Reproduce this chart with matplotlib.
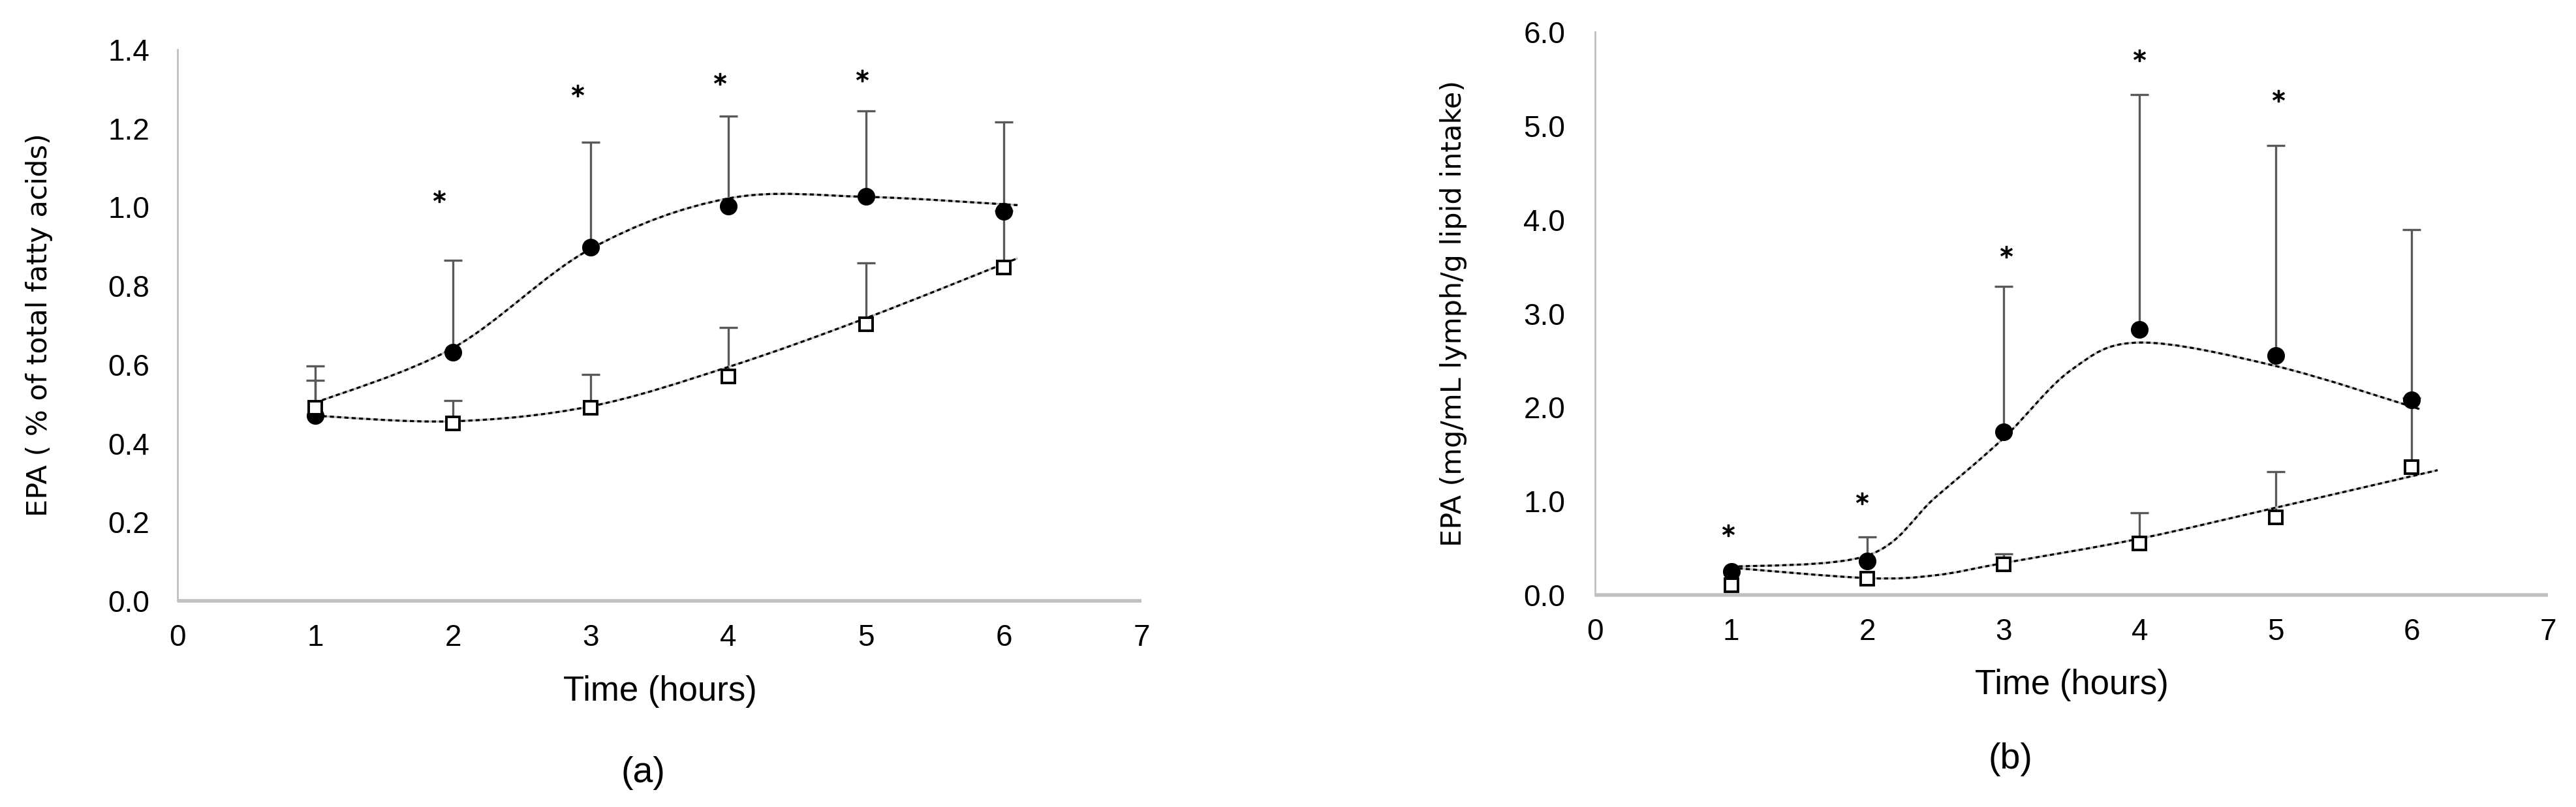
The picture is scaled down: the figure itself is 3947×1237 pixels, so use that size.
import numpy as np
import matplotlib
matplotlib.use("Agg")
import matplotlib.pyplot as plt
from matplotlib.path import Path
from matplotlib.patches import PathPatch

# ---- data ----
hours = [1, 2, 3, 4, 5, 6]

# panel (a): EPA as % of total fatty acids
a_fish = [0.47, 0.632, 0.898, 1.003, 1.027, 0.989]
a_fish_upper = [0.596, 0.865, 1.165, 1.231, 1.245, 1.216]
a_ctrl = [0.49, 0.451, 0.49, 0.570, 0.703, 0.846]
a_ctrl_upper = [0.560, 0.508, 0.575, 0.694, 0.858, 0.99]
a_fish_fit_x = [1, 2, 3, 4, 5, 6.1]
a_fish_fit_y = [0.503, 0.642, 0.894, 1.022, 1.026, 1.005]
a_ctrl_fit_x = [1, 2, 3, 4, 5, 6.1]
a_ctrl_fit_y = [0.47, 0.456, 0.494, 0.594, 0.718, 0.87]
a_star_x = [1.90, 2.905, 3.94, 4.97]
a_star_y = [1.027, 1.296, 1.326, 1.333]

# panel (b): EPA mg/mL lymph/g lipid intake
b_fish = [0.25, 0.36, 1.74, 2.83, 2.55, 2.08]
b_fish_upper = [np.nan, 0.62, 3.29, 5.33, 4.79, 3.89]
b_ctrl = [0.106, 0.176, 0.326, 0.546, 0.83, 1.36]
b_ctrl_upper = [np.nan, np.nan, 0.44, 0.875, 1.315, 2.10]
b_fish_fit_x = [1, 2, 2.5, 3, 3.5, 4, 5, 6.06]
b_fish_fit_y = [0.30, 0.42, 1.04, 1.67, 2.40, 2.69, 2.44, 1.98]
b_ctrl_fit_x = [1, 2, 2.5, 3, 4, 5, 6.19]
b_ctrl_fit_y = [0.29, 0.18, 0.21, 0.34, 0.60, 0.93, 1.33]
b_star_x = [0.98, 1.96, 3.02, 4.0, 5.02]
b_star_y = [0.685, 1.03, 3.66, 5.75, 5.32]

NARROW = ["Liberation Sans Narrow", "Liberation Sans", "DejaVu Sans"]
W, H = 3948, 1237
ERR_COLOR = "#595959"


def smooth_path(xs, ys):
    # excel-like smoothed line: catmull-rom knots turned into bezier segments
    pts = np.column_stack([xs, ys]).astype(float)
    verts = [pts[0]]
    codes = [Path.MOVETO]
    n = len(pts)
    for i in range(n - 1):
        p0 = pts[i - 1] if i > 0 else pts[i]
        p1 = pts[i]
        p2 = pts[i + 1]
        p3 = pts[i + 2] if i + 2 < n else pts[i + 1]
        verts += [p1 + (p2 - p0) / 6, p2 - (p3 - p1) / 6, p2]
        codes += [Path.CURVE4] * 3
    return Path(verts, codes)


def draw_fit(ax, xs, ys):
    ax.add_patch(PathPatch(smooth_path(xs, ys), fill=False, ec="#bdbdbd",
                           lw=2.3, zorder=3))
    ax.add_patch(PathPatch(smooth_path(xs, ys), fill=False, ec="black",
                           lw=2.3, ls=(0, (2.0, 1.5)), zorder=3))


def draw_errors(ax, x, y, upper):
    # upper-only error bars with a cap on top
    x = np.array(x, float)
    y = np.array(y, float)
    upper = np.array(upper, float)
    m = ~np.isnan(upper)
    ax.vlines(x[m], y[m], upper[m], color=ERR_COLOR, lw=2.4, zorder=2)
    ax.plot(x[m], upper[m], ls="none", marker="_", ms=20, mew=2.4,
            color=ERR_COLOR, zorder=2)


def panel(ax, fish, fish_up, ctrl, ctrl_up, ffx, ffy, cfx, cfy, sx, sy,
          ymax, ystep, ypad):
    draw_errors(ax, hours, fish, fish_up)
    draw_errors(ax, hours, ctrl, ctrl_up)
    draw_fit(ax, ffx, ffy)
    draw_fit(ax, cfx, cfy)
    ax.plot(hours, fish, "o", color="black", ms=18.5, ls="none", zorder=4)
    ax.plot(hours, ctrl, "s", mfc="white", mec="black", mew=2.8, ms=15,
            ls="none", zorder=5)
    ax.plot(sx, sy, ls="none", marker="$*$", color="black", ms=13, zorder=5)

    ax.set_xlim(0, 7)
    ax.set_ylim(0, ymax)
    ax.set_xticks(range(0, 8))
    ax.set_yticks(np.arange(0, ymax + ystep / 2, ystep))
    ax.yaxis.set_major_formatter(matplotlib.ticker.FormatStrFormatter("%.1f"))
    ax.tick_params(axis="both", length=0, labelsize=33)
    ax.tick_params(axis="x", pad=25)
    ax.tick_params(axis="y", pad=ypad)
    for lab in ax.get_xticklabels() + ax.get_yticklabels():
        lab.set_family(NARROW)
    for s in ["top", "right"]:
        ax.spines[s].set_visible(False)
    ax.spines["left"].set_color("#c0c0c0")
    ax.spines["left"].set_linewidth(2.0)
    ax.spines["bottom"].set_color("#c0c0c0")
    ax.spines["bottom"].set_linewidth(4.0)
    ax.spines["bottom"].set_capstyle("butt")


fig = plt.figure(figsize=(W / 100, H / 100), dpi=100)
ax_a = fig.add_axes([272 / W, 1 - 921 / H, 1477 / W, 845 / H])
ax_b = fig.add_axes([2444 / W, 1 - 912 / H, 1460 / W, 863 / H])

panel(ax_a, a_fish, a_fish_upper, a_ctrl, a_ctrl_upper,
      a_fish_fit_x, a_fish_fit_y, a_ctrl_fit_x, a_ctrl_fit_y,
      a_star_x, a_star_y, 1.4, 0.2, 31)
panel(ax_b, b_fish, b_fish_upper, b_ctrl, b_ctrl_upper,
      b_fish_fit_x, b_fish_fit_y, b_ctrl_fit_x, b_ctrl_fit_y,
      b_star_x, b_star_y, 6.0, 1.0, 33)

ax_a.set_ylabel("EPA ( % of total fatty acids)", fontsize=31,
                family="DejaVu Sans")
ax_a.yaxis.set_label_coords(-0.129, 0.5)
ax_b.set_ylabel("EPA (mg/mL lymph/g lipid intake)", fontsize=31,
                family="DejaVu Sans")
ax_b.yaxis.set_label_coords(-0.134, 0.5)

fig.text(1011 / W, 1 - 1060 / H, "Time (hours)", ha="center", va="center",
         fontsize=38, family=NARROW)
fig.text(3174 / W, 1 - 1050 / H, "Time (hours)", ha="center", va="center",
         fontsize=38, family=NARROW)
fig.text(985 / W, 1 - 1185 / H, "(a)", ha="center", va="center",
         fontsize=40, family=NARROW)
fig.text(3080 / W, 1 - 1164 / H, "(b)", ha="center", va="center",
         fontsize=40, family=NARROW)

fig.savefig("out.png", dpi=100, facecolor="white")
